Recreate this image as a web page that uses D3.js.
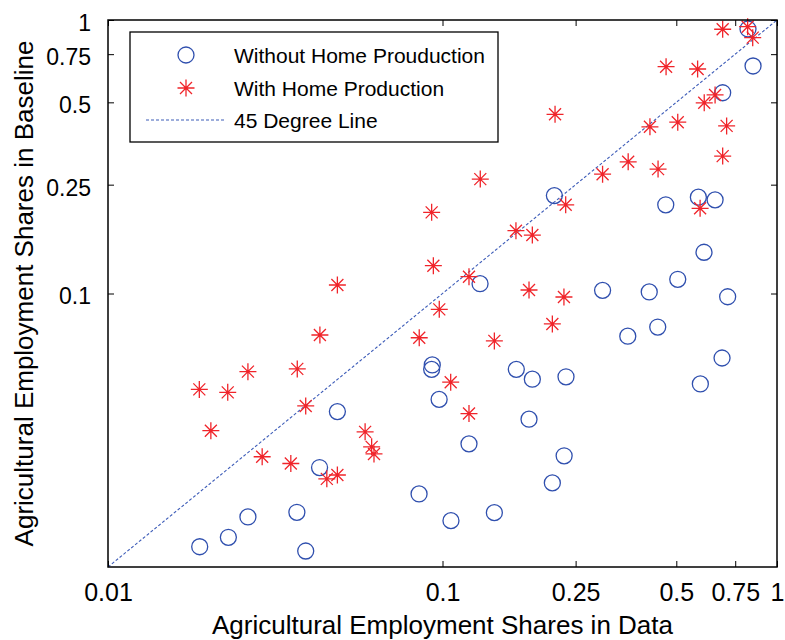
<!DOCTYPE html>
<html>
<head>
<meta charset="utf-8">
<script src="https://cdn.jsdelivr.net/npm/d3@7"></script>
<style>
  html, body { margin: 0; padding: 0; background: #fff; }
  svg { display: block; }
  text { font-family: "Liberation Sans", Arial, Helvetica, sans-serif; fill: #000; }
</style>
</head>
<body>
<svg id="chart" width="785" height="640"></svg>
<script>
// Agricultural employment shares: data (x) vs. model baseline (y)
const withoutHomeX = [0.819, 0.848, 0.688, 0.216, 0.582, 0.653, 0.465, 0.605, 0.505, 0.1295,
  0.301, 0.415, 0.712, 0.440, 0.358, 0.685, 0.0932, 0.0928, 0.1662, 0.1856,
  0.234, 0.590, 0.0977, 0.0485, 0.1814, 0.120, 0.231, 0.0429, 0.213, 0.0851,
  0.1429, 0.1060, 0.0262, 0.0367, 0.0229, 0.0188, 0.0390];
const withoutHomeY = [0.927, 0.679, 0.542, 0.228, 0.225, 0.220, 0.211, 0.1415, 0.1127, 0.1086,
  0.1027, 0.1013, 0.0973, 0.0754, 0.0698, 0.0581, 0.0548, 0.0528, 0.0528, 0.0486,
  0.0496, 0.0467, 0.0410, 0.0370, 0.0347, 0.0282, 0.0255, 0.0231, 0.0203, 0.0185,
  0.0158, 0.01477, 0.01524, 0.01585, 0.01284, 0.01186, 0.01144];

const withHomeX = [0.688, 0.817, 0.846, 0.466, 0.579, 0.653, 0.606, 0.505, 0.707, 0.417,
  0.217, 0.688, 0.359, 0.441, 0.301, 0.1297, 0.2335, 0.589, 0.0928, 0.1658,
  0.1856, 0.0939, 0.120, 0.0485, 0.1814, 0.2307, 0.0978, 0.213, 0.0430, 0.0852,
  0.1429, 0.0262, 0.0368, 0.01875, 0.0228, 0.1058, 0.0390, 0.120, 0.0203, 0.0587,
  0.0614, 0.0624, 0.0289, 0.0352, 0.0451, 0.0485];
const withHomeY = [0.925, 0.945, 0.862, 0.675, 0.662, 0.532, 0.498, 0.423, 0.410, 0.407,
  0.452, 0.318, 0.303, 0.285, 0.273, 0.262, 0.211, 0.2049, 0.198, 0.1697,
  0.1636, 0.1264, 0.1152, 0.1074, 0.1030, 0.0971, 0.0875, 0.0774, 0.0705, 0.0689,
  0.0671, 0.0518, 0.0530, 0.0446, 0.0435, 0.0474, 0.0388, 0.0364, 0.0315, 0.0312,
  0.0275, 0.0259, 0.0253, 0.0239, 0.0210, 0.0217];

const xTickValues = [0.01, 0.1, 0.25, 0.5, 0.75, 1];
const xTickLabels = ["0.01", "0.1", "0.25", "0.5", "0.75", "1"];
const yTickValues = [0.1, 0.25, 0.5, 0.75, 1];
const yTickLabels = ["0.1", "0.25", "0.5", "0.75", "1"];
const diagonal = [0.01, 1];

const seriesNames = ["Without Home Prouduction", "With Home Production", "45 Degree Line"];
const xTitle = "Agricultural Employment Shares in Data";
const yTitle = "Agricultural Employment Shares in Baseline";

// Layout
const W = 785, H = 640;
const plot = { left: 108, right: 777, top: 20, bottom: 567 };
const blue = "#2f4fae", red = "#f0242a", lineBlue = "#3d5cb8";

const svg = d3.select("#chart");

const x = d3.scaleLog().domain([0.01, 1]).range([plot.left, plot.right]);
const y = d3.scaleLog().domain([0.01, 1]).range([plot.bottom, plot.top]);

const fmtX = v => xTickLabels[xTickValues.indexOf(v)];
const fmtY = v => yTickLabels[yTickValues.indexOf(v)];

// Bottom axis with inward ticks and labels
const gx = svg.append("g")
  .attr("transform", `translate(0,${plot.bottom})`)
  .call(d3.axisBottom(x).tickValues(xTickValues).tickFormat(fmtX)
    .tickSizeInner(-6).tickSizeOuter(0).tickPadding(16));
gx.select(".domain").remove();
gx.selectAll("text").attr("font-size", 25).attr("font-family", null).attr("fill", "#000");
gx.selectAll("line").attr("stroke", "#000");

// Left axis
const gy = svg.append("g")
  .attr("transform", `translate(${plot.left},0)`)
  .call(d3.axisLeft(y).tickValues(yTickValues).tickFormat(fmtY)
    .tickSizeInner(-6).tickSizeOuter(0).tickPadding(17));
gy.select(".domain").remove();
gy.selectAll("text").attr("font-size", 23).attr("font-family", null).attr("fill", "#000").attr("dy", "0.45em");
gy.selectAll("line").attr("stroke", "#000");

// Mirrored ticks on top and right edges
const gt = svg.append("g")
  .attr("transform", `translate(0,${plot.top})`)
  .call(d3.axisTop(x).tickValues(xTickValues).tickFormat("").tickSizeInner(-6).tickSizeOuter(0));
gt.select(".domain").remove();
gt.selectAll("line").attr("stroke", "#000");

const gr = svg.append("g")
  .attr("transform", `translate(${plot.right},0)`)
  .call(d3.axisRight(y).tickValues(yTickValues).tickFormat("").tickSizeInner(-6).tickSizeOuter(0));
gr.select(".domain").remove();
gr.selectAll("line").attr("stroke", "#000");

// 45 degree reference line
svg.append("line")
  .attr("x1", x(diagonal[0])).attr("y1", y(diagonal[0]))
  .attr("x2", x(diagonal[1])).attr("y2", y(diagonal[1]))
  .attr("stroke", lineBlue).attr("stroke-width", 1.1)
  .attr("stroke-dasharray", "3,2");

// Star marker (plus overlaid with a cross)
function starPath(cx, cy, a, b) {
  return `M${cx - a},${cy}H${cx + a}M${cx},${cy - a}V${cy + a}` +
         `M${cx - b},${cy - b}L${cx + b},${cy + b}M${cx - b},${cy + b}L${cx + b},${cy - b}`;
}

// Circles: without home production
svg.append("g").selectAll("circle")
  .data(d3.zip(withoutHomeX, withoutHomeY))
  .join("circle")
  .attr("cx", d => x(d[0])).attr("cy", d => y(d[1]))
  .attr("r", 8)
  .attr("fill", "none").attr("stroke", blue).attr("stroke-width", 1.3);

// Stars: with home production
svg.append("g").selectAll("path")
  .data(d3.zip(withHomeX, withHomeY))
  .join("path")
  .attr("d", d => starPath(x(d[0]), y(d[1]), 8.5, 6))
  .attr("fill", "none").attr("stroke", red).attr("stroke-width", 1.3);

// Plot frame
svg.append("rect")
  .attr("x", plot.left).attr("y", plot.top)
  .attr("width", plot.right - plot.left).attr("height", plot.bottom - plot.top)
  .attr("fill", "none").attr("stroke", "#000").attr("stroke-width", 1.5);

// Axis titles
svg.append("text")
  .attr("x", (plot.left + plot.right) / 2).attr("y", 634)
  .attr("text-anchor", "middle").attr("font-size", 26)
  .text(xTitle);

svg.append("text")
  .attr("transform", `translate(33,${(plot.top + plot.bottom) / 2}) rotate(-90)`)
  .attr("text-anchor", "middle").attr("font-size", 26)
  .text(yTitle);

// Legend
const legend = svg.append("g");
legend.append("rect")
  .attr("x", 130).attr("y", 32).attr("width", 368).attr("height", 110)
  .attr("fill", "#fff").attr("stroke", "#000").attr("stroke-width", 1.3);

const rows = [55, 88, 120];
legend.append("circle")
  .attr("cx", 186).attr("cy", rows[0]).attr("r", 8)
  .attr("fill", "none").attr("stroke", blue).attr("stroke-width", 1.3);
legend.append("path")
  .attr("d", starPath(186, rows[1], 8.5, 6))
  .attr("fill", "none").attr("stroke", red).attr("stroke-width", 1.3);
legend.append("line")
  .attr("x1", 146).attr("x2", 225).attr("y1", rows[2]).attr("y2", rows[2])
  .attr("stroke", lineBlue).attr("stroke-width", 1.1).attr("stroke-dasharray", "3,2");

legend.selectAll("text.entry")
  .data(seriesNames)
  .join("text")
  .attr("class", "entry")
  .attr("x", 234).attr("y", (d, i) => rows[i] + 8)
  .attr("font-size", 21)
  .text(d => d);
</script>
</body>
</html>
